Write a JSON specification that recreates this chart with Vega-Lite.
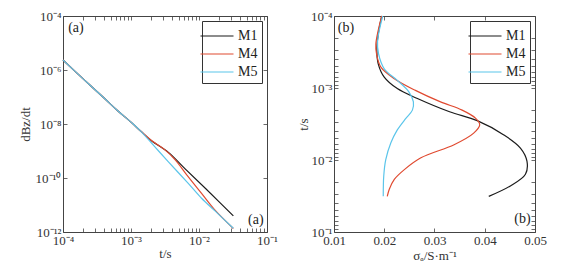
{
  "$schema": "https://vega.github.io/schema/vega-lite/v6.json",
  "background": "white",
  "padding": {"left": 18, "top": 9, "right": 5, "bottom": 5},
  "config": {
    "font": "Liberation Serif",
    "view": {"stroke": "#444", "strokeWidth": 1},
    "axis": {
      "domain": false, "grid": false, "tickColor": "#444", "tickSize": -4, "tickWidth": 0.8,
      "labelFlush": false, "labelOverlap": false,
      "labelFont": "Liberation Serif", "labelFontSize": 13, "labelColor": "#333", "labelPadding": 7,
      "titleFont": "Liberation Serif", "titleFontSize": 13, "titleFontWeight": "normal", "titleColor": "#333"
    },
    "legend": {
      "orient": "top-right", "offset": 5, "strokeColor": "#333", "fillColor": "white", "padding": 4,
      "labelFont": "Liberation Serif", "labelFontSize": 14, "labelColor": "#222",
      "symbolType": "M-1.65,0H1.65", "symbolSize": 400, "rowPadding": -4, "labelOffset": 10
    }
  },
  "datasets": {
    "left": [
      {"model": "M1", "t": 0.0001, "v": 2.34e-6},
      {"model": "M1", "t": 0.0002, "v": 4.57e-7},
      {"model": "M1", "t": 0.000398, "v": 9.33e-8},
      {"model": "M1", "t": 0.000631, "v": 3.16e-8},
      {"model": "M1", "t": 0.001, "v": 1.17e-8},
      {"model": "M1", "t": 0.00141, "v": 5.25e-9},
      {"model": "M1", "t": 0.002, "v": 2.4e-9},
      {"model": "M1", "t": 0.00355, "v": 8.91e-10},
      {"model": "M1", "t": 0.00631, "v": 2.14e-10},
      {"model": "M1", "t": 0.0126, "v": 3.98e-11},
      {"model": "M1", "t": 0.032, "v": 3.98e-12},
      {"model": "M4", "t": 0.0001, "v": 2.34e-6},
      {"model": "M4", "t": 0.0002, "v": 4.57e-7},
      {"model": "M4", "t": 0.000398, "v": 9.33e-8},
      {"model": "M4", "t": 0.000631, "v": 3.16e-8},
      {"model": "M4", "t": 0.001, "v": 1.17e-8},
      {"model": "M4", "t": 0.00141, "v": 5.25e-9},
      {"model": "M4", "t": 0.002, "v": 2.45e-9},
      {"model": "M4", "t": 0.00316, "v": 1.1e-9},
      {"model": "M4", "t": 0.00447, "v": 4.68e-10},
      {"model": "M4", "t": 0.00692, "v": 1.12e-10},
      {"model": "M4", "t": 0.0109, "v": 2.69e-11},
      {"model": "M4", "t": 0.0172, "v": 6.46e-12},
      {"model": "M4", "t": 0.032, "v": 1.35e-12},
      {"model": "M5", "t": 0.0001, "v": 2.34e-6},
      {"model": "M5", "t": 0.0002, "v": 4.57e-7},
      {"model": "M5", "t": 0.000398, "v": 9.33e-8},
      {"model": "M5", "t": 0.000631, "v": 3.16e-8},
      {"model": "M5", "t": 0.001, "v": 1.17e-8},
      {"model": "M5", "t": 0.00141, "v": 5.25e-9},
      {"model": "M5", "t": 0.00223, "v": 1.45e-9},
      {"model": "M5", "t": 0.00355, "v": 3.98e-10},
      {"model": "M5", "t": 0.00695, "v": 6.31e-11},
      {"model": "M5", "t": 0.0109, "v": 1.78e-11},
      {"model": "M5", "t": 0.0172, "v": 6.03e-12},
      {"model": "M5", "t": 0.032, "v": 1.38e-12}
    ],
    "right": [
      {"model": "M1", "t": 0.0001, "s": 0.0195},
      {"model": "M1", "t": 0.000179, "s": 0.0188},
      {"model": "M1", "t": 0.000303, "s": 0.01853},
      {"model": "M1", "t": 0.000461, "s": 0.0188},
      {"model": "M1", "t": 0.000706, "s": 0.02},
      {"model": "M1", "t": 0.00102, "s": 0.0226},
      {"model": "M1", "t": 0.0014, "s": 0.0266},
      {"model": "M1", "t": 0.00214, "s": 0.033},
      {"model": "M1", "t": 0.00284, "s": 0.0385},
      {"model": "M1", "t": 0.00448, "s": 0.0438},
      {"model": "M1", "t": 0.00682, "s": 0.0471},
      {"model": "M1", "t": 0.0104, "s": 0.0484},
      {"model": "M1", "t": 0.0158, "s": 0.0481},
      {"model": "M1", "t": 0.0229, "s": 0.0451},
      {"model": "M1", "t": 0.032, "s": 0.0408},
      {"model": "M4", "t": 0.0001, "s": 0.0195},
      {"model": "M4", "t": 0.000245, "s": 0.01833},
      {"model": "M4", "t": 0.000337, "s": 0.01847},
      {"model": "M4", "t": 0.000514, "s": 0.01933},
      {"model": "M4", "t": 0.000743, "s": 0.022},
      {"model": "M4", "t": 0.00108, "s": 0.0262},
      {"model": "M4", "t": 0.00156, "s": 0.0312},
      {"model": "M4", "t": 0.00203, "s": 0.0355},
      {"model": "M4", "t": 0.00264, "s": 0.0382},
      {"model": "M4", "t": 0.00324, "s": 0.039},
      {"model": "M4", "t": 0.00424, "s": 0.0378},
      {"model": "M4", "t": 0.00614, "s": 0.0339},
      {"model": "M4", "t": 0.00933, "s": 0.0273},
      {"model": "M4", "t": 0.0136, "s": 0.024},
      {"model": "M4", "t": 0.0186, "s": 0.022},
      {"model": "M4", "t": 0.0255, "s": 0.021},
      {"model": "M4", "t": 0.032, "s": 0.0206},
      {"model": "M5", "t": 0.0001, "s": 0.0197},
      {"model": "M5", "t": 0.000221, "s": 0.01867},
      {"model": "M5", "t": 0.000337, "s": 0.01887},
      {"model": "M5", "t": 0.000541, "s": 0.02},
      {"model": "M5", "t": 0.000783, "s": 0.0226},
      {"model": "M5", "t": 0.00113, "s": 0.0249},
      {"model": "M5", "t": 0.00156, "s": 0.0258},
      {"model": "M5", "t": 0.00203, "s": 0.0256},
      {"model": "M5", "t": 0.00264, "s": 0.0243},
      {"model": "M5", "t": 0.00382, "s": 0.0226},
      {"model": "M5", "t": 0.00582, "s": 0.0213},
      {"model": "M5", "t": 0.00989, "s": 0.0203},
      {"model": "M5", "t": 0.0167, "s": 0.0199},
      {"model": "M5", "t": 0.032, "s": 0.0198}
    ]
  },
  "hconcat": [
    {
      "width": 204, "height": 216,
      "data": {"name": "left"},
      "layer": [
        {
          "mark": {"type": "line", "interpolate": "catmull-rom"},
          "encoding": {
            "x": {"field": "t", "type": "quantitative",
              "scale": {"type": "log", "domain": [0.0001, 0.1], "nice": false},
              "axis": {"title": "t/s", "titlePadding": 0, "labelPadding": 6,
                "values": [0.0001,0.0002,0.0003,0.0004,0.0005,0.0006,0.0007,0.0008,0.0009,0.001,0.002,0.003,0.004,0.005,0.006,0.007,0.008,0.009,0.01,0.02,0.03,0.04,0.05,0.06,0.07,0.08,0.09,0.1],
                "labelExpr": "abs(log(datum.value)/LN10 - round(log(datum.value)/LN10)) < 0.001 ? '10' + ['⁰','⁻¹','⁻²','⁻³','⁻⁴','⁻⁵','⁻⁶','⁻⁷','⁻⁸','⁻⁹','⁻¹⁰','⁻¹¹','⁻¹²'][-round(log(datum.value)/LN10)] : ''"}},
            "y": {"field": "v", "type": "quantitative",
              "scale": {"type": "log", "domain": [1e-12, 0.0001], "nice": false},
              "axis": {"title": "dBz/dt", "titlePadding": 3, "labelPadding": 6,
                "values": [1e-12, 1e-10, 1e-8, 1e-6, 0.0001],
                "labelExpr": "'10' + ['⁰','⁻¹','⁻²','⁻³','⁻⁴','⁻⁵','⁻⁶','⁻⁷','⁻⁸','⁻⁹','⁻¹⁰','⁻¹¹','⁻¹²'][-round(log(datum.value)/LN10)]"}},
            "color": {"field": "model", "type": "nominal",
              "scale": {"domain": ["M1", "M4", "M5"], "range": ["#1b1b1b", "#e04a30", "#5bc5ea"]},
              "legend": {"title": null,
                "encode": {"symbols": {"update": {"strokeWidth": {"signal": "datum.value === 'M5' ? 2.2 : 1.2"}}}}}},
            "strokeWidth": {"field": "model", "type": "nominal",
              "scale": {"domain": ["M1", "M4", "M5"], "range": [1.2, 1.2, 2.2]},
              "legend": null}
          }
        },
        {
          "mark": {"type": "line", "strokeOpacity": 0},
          "encoding": {
            "x": {"field": "t", "type": "quantitative",
              "axis": {"orient": "top", "labels": false, "title": null,
                "values": [0.0001,0.0002,0.0003,0.0004,0.0005,0.0006,0.0007,0.0008,0.0009,0.001,0.002,0.003,0.004,0.005,0.006,0.007,0.008,0.009,0.01,0.02,0.03,0.04,0.05,0.06,0.07,0.08,0.09,0.1]}},
            "y": {"field": "v", "type": "quantitative",
              "axis": {"orient": "right", "labels": false, "title": null, "values": [1e-12, 1e-10, 1e-8, 1e-6, 0.0001]}},
            "detail": {"field": "model"}
          }
        },
        {
          "data": {"values": [{"label": "(a)"}]},
          "mark": {"type": "text", "fontSize": 14, "font": "Liberation Serif", "color": "#222"},
          "encoding": {
            "x": {"datum": 0.000155, "type": "quantitative", "axis": null},
            "y": {"datum": 3.6e-5, "type": "quantitative", "axis": null},
            "text": {"field": "label"}
          }
        },
        {
          "data": {"values": [{"label": "(a)"}]},
          "mark": {"type": "text", "fontSize": 14, "font": "Liberation Serif", "color": "#222"},
          "encoding": {
            "x": {"datum": 0.0686, "type": "quantitative", "axis": null},
            "y": {"datum": 2.78e-12, "type": "quantitative", "axis": null},
            "text": {"field": "label"}
          }
        }
      ],
      "resolve": {"axis": {"x": "independent", "y": "independent"}}
    },
    {
      "width": 201, "height": 216,
      "data": {"name": "right"},
      "layer": [
        {
          "mark": {"type": "line", "interpolate": "catmull-rom"},
          "encoding": {
            "x": {"field": "s", "type": "quantitative",
              "scale": {"domain": [0.01, 0.05], "nice": false, "zero": false},
              "axis": {"title": "σₐ/S·m⁻¹", "titlePadding": 2, "labelPadding": 6, "values": [0.01, 0.02, 0.03, 0.04, 0.05], "format": ".2f"}},
            "y": {"field": "t", "type": "quantitative",
              "scale": {"type": "log", "domain": [0.0001, 0.1], "nice": false, "reverse": true},
              "axis": {"title": "t/s", "titlePadding": 0, "labelPadding": 6,
                "values": [0.0001,0.0002,0.0003,0.0004,0.0005,0.0006,0.0007,0.0008,0.0009,0.001,0.002,0.003,0.004,0.005,0.006,0.007,0.008,0.009,0.01,0.02,0.03,0.04,0.05,0.06,0.07,0.08,0.09,0.1],
                "labelExpr": "abs(log(datum.value)/LN10 - round(log(datum.value)/LN10)) < 0.001 ? '10' + ['⁰','⁻¹','⁻²','⁻³','⁻⁴','⁻⁵','⁻⁶','⁻⁷','⁻⁸','⁻⁹','⁻¹⁰','⁻¹¹','⁻¹²'][-round(log(datum.value)/LN10)] : ''"}},
            "order": {"field": "t", "type": "quantitative"},
            "color": {"field": "model", "type": "nominal",
              "scale": {"domain": ["M1", "M4", "M5"], "range": ["#1b1b1b", "#e04a30", "#5bc5ea"]},
              "legend": {"title": null,
                "encode": {"symbols": {"update": {"strokeWidth": {"signal": "datum.value === 'M5' ? 2.2 : 1.2"}}}}}},
            "strokeWidth": {"field": "model", "type": "nominal",
              "scale": {"domain": ["M1", "M4", "M5"], "range": [1.2, 1.2, 2.2]},
              "legend": null}
          }
        },
        {
          "mark": {"type": "line", "strokeOpacity": 0},
          "encoding": {
            "x": {"field": "s", "type": "quantitative",
              "axis": {"orient": "top", "labels": false, "title": null, "values": [0.01, 0.02, 0.03, 0.04, 0.05]}},
            "y": {"field": "t", "type": "quantitative",
              "axis": {"orient": "right", "labels": false, "title": null,
                "values": [0.0001,0.0002,0.0003,0.0004,0.0005,0.0006,0.0007,0.0008,0.0009,0.001,0.002,0.003,0.004,0.005,0.006,0.007,0.008,0.009,0.01,0.02,0.03,0.04,0.05,0.06,0.07,0.08,0.09,0.1]}},
            "order": {"field": "t", "type": "quantitative"},
            "detail": {"field": "model"}
          }
        },
        {
          "data": {"values": [{"label": "(b)"}]},
          "mark": {"type": "text", "fontSize": 14, "font": "Liberation Serif", "color": "#222"},
          "encoding": {
            "x": {"datum": 0.01238, "type": "quantitative", "axis": null},
            "y": {"datum": 0.000146, "type": "quantitative", "axis": null},
            "text": {"field": "label"}
          }
        },
        {
          "data": {"values": [{"label": "(b)"}]},
          "mark": {"type": "text", "fontSize": 14, "font": "Liberation Serif", "color": "#222"},
          "encoding": {
            "x": {"datum": 0.0475, "type": "quantitative", "axis": null},
            "y": {"datum": 0.066, "type": "quantitative", "axis": null},
            "text": {"field": "label"}
          }
        }
      ],
      "resolve": {"axis": {"x": "independent", "y": "independent"}}
    }
  ],
  "spacing": 67,
  "bounds": "flush",
  "resolve": {
    "scale": {"color": "independent", "strokeWidth": "independent"},
    "legend": {"color": "independent", "strokeWidth": "independent"}
  }
}
